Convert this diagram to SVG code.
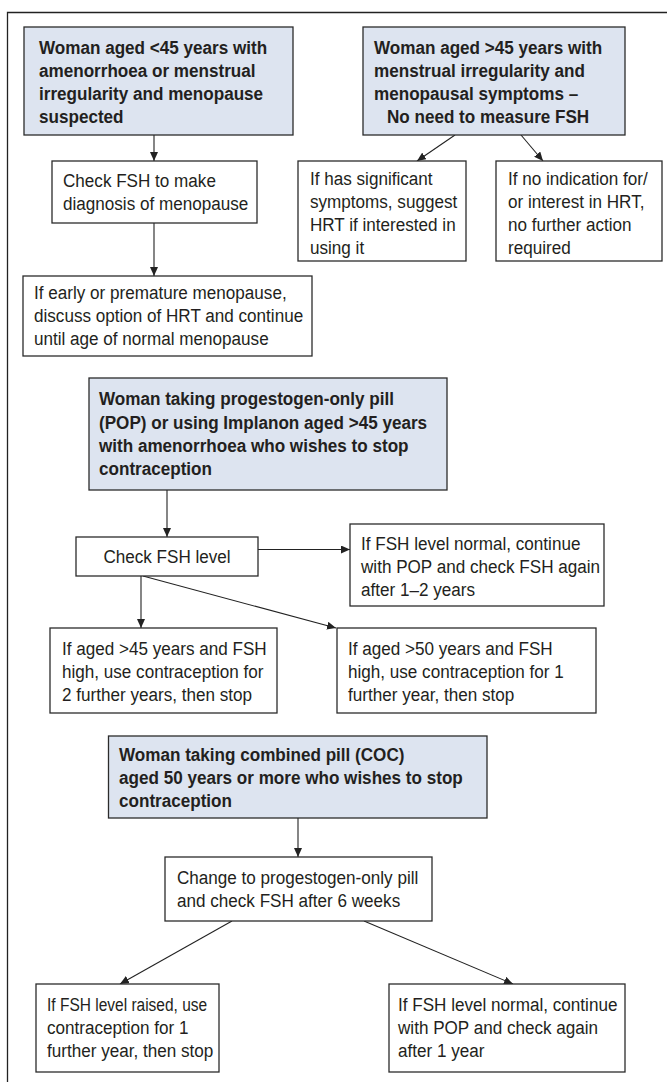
<svg xmlns="http://www.w3.org/2000/svg" width="667" height="1082" viewBox="0 0 667 1082">
<defs>
<marker id="ah" markerUnits="userSpaceOnUse" markerWidth="10" markerHeight="8" refX="9" refY="4" orient="auto">
<path d="M0,0 L9,4 L0,8 z" fill="#222"/>
</marker>
<style>
.box{fill:#fff;stroke:#2b2b2b;stroke-width:1.3}
.hdr{fill:#dde4f0;stroke:#2b2b2b;stroke-width:1.3}
.t{font-family:"Liberation Sans",Arial,sans-serif;font-size:19px;fill:#231f20}
.b{font-weight:bold}
.c{fill:none;stroke:#222;stroke-width:1.1}
.frame{fill:none;stroke:#222;stroke-width:1.3}
</style>
</defs>
<rect width="667" height="1082" fill="#fff"/>
<path class="frame" d="M7.5,1082 V12.5 H667"/>

<g id="connectors">
<line class="c" x1="154" y1="135" x2="154" y2="161" marker-end="url(#ah)"/>
<line class="c" x1="455" y1="135" x2="417" y2="161" marker-end="url(#ah)"/>
<line class="c" x1="521" y1="135" x2="543" y2="161" marker-end="url(#ah)"/>
<line class="c" x1="154" y1="223" x2="154" y2="276" marker-end="url(#ah)"/>
<line class="c" x1="167" y1="490" x2="167" y2="537" marker-end="url(#ah)"/>
<line class="c" x1="258" y1="549.5" x2="350" y2="549.5" marker-end="url(#ah)"/>
<line class="c" x1="141" y1="576" x2="141" y2="628" marker-end="url(#ah)"/>
<line class="c" x1="143" y1="576" x2="336" y2="628" marker-end="url(#ah)"/>
<line class="c" x1="298" y1="818" x2="298" y2="857" marker-end="url(#ah)"/>
<line class="c" x1="232" y1="921" x2="120" y2="984" marker-end="url(#ah)"/>
<line class="c" x1="364" y1="921" x2="513" y2="984" marker-end="url(#ah)"/>
</g>

<g id="n1">
<rect class="hdr" x="24" y="27" width="269" height="108"/>
<g transform="translate(39,0) scale(0.9,1)">
<text class="t b" x="0" y="54">Woman aged &lt;45 years with</text>
<text class="t b" x="0" y="77">amenorrhoea or menstrual</text>
<text class="t b" x="0" y="100">irregularity and menopause</text>
<text class="t b" x="0" y="123">suspected</text>
</g>
</g>

<g id="n2">
<rect class="hdr" x="363" y="27" width="262" height="108"/>
<g transform="translate(374,0) scale(0.9,1)">
<text class="t b" x="0" y="54">Woman aged &gt;45 years with</text>
<text class="t b" x="0" y="77">menstrual irregularity and</text>
<text class="t b" x="0" y="100">menopausal symptoms –</text>
<text class="t b" x="14.4" y="123">No need to measure FSH</text>
</g>
</g>

<g id="n3">
<rect class="box" x="52" y="161" width="205" height="62"/>
<g transform="translate(63,0) scale(0.9,1)">
<text class="t" x="0" y="187">Check FSH to make</text>
<text class="t" x="0" y="210">diagnosis of menopause</text>
</g>
</g>

<g id="n4">
<rect class="box" x="298" y="161" width="168" height="100"/>
<g transform="translate(310,0) scale(0.9,1)">
<text class="t" x="0" y="185">If has significant</text>
<text class="t" x="0" y="208">symptoms, suggest</text>
<text class="t" x="0" y="231">HRT if interested in</text>
<text class="t" x="0" y="254">using it</text>
</g>
</g>

<g id="n5">
<rect class="box" x="496" y="161" width="166" height="100"/>
<g transform="translate(508,0) scale(0.9,1)">
<text class="t" x="0" y="185">If no indication for/</text>
<text class="t" x="0" y="208">or interest in HRT,</text>
<text class="t" x="0" y="231">no further action</text>
<text class="t" x="0" y="254">required</text>
</g>
</g>

<g id="n6">
<rect class="box" x="23" y="276" width="289" height="80"/>
<g transform="translate(34,0) scale(0.9,1)">
<text class="t" x="0" y="299">If early or premature menopause,</text>
<text class="t" x="0" y="322">discuss option of HRT and continue</text>
<text class="t" x="0" y="345">until age of normal menopause</text>
</g>
</g>

<g id="n7">
<rect class="hdr" x="89" y="378" width="358" height="112"/>
<g transform="translate(99,0) scale(0.9,1)">
<text class="t b" x="0" y="405">Woman taking progestogen-only pill</text>
<text class="t b" x="0" y="429">(POP) or using Implanon aged &gt;45 years</text>
<text class="t b" x="0" y="452">with amenorrhoea who wishes to stop</text>
<text class="t b" x="0" y="475">contraception</text>
</g>
</g>

<g id="n8">
<rect class="box" x="76" y="537" width="182" height="39"/>
<g transform="translate(167,0) scale(0.9,1)">
<text class="t" x="0" y="563" text-anchor="middle">Check FSH level</text>
</g>
</g>

<g id="n9">
<rect class="box" x="350" y="524" width="254" height="82"/>
<g transform="translate(361,0) scale(0.9,1)">
<text class="t" x="0" y="550">If FSH level normal, continue</text>
<text class="t" x="0" y="573">with POP and check FSH again</text>
<text class="t" x="0" y="596">after 1–2 years</text>
</g>
</g>

<g id="n10">
<rect class="box" x="50" y="628" width="227" height="85"/>
<g transform="translate(62,0) scale(0.9,1)">
<text class="t" x="0" y="655">If aged &gt;45 years and FSH</text>
<text class="t" x="0" y="678">high, use contraception for</text>
<text class="t" x="0" y="701">2 further years, then stop</text>
</g>
</g>

<g id="n11">
<rect class="box" x="337" y="628" width="259" height="85"/>
<g transform="translate(348,0) scale(0.9,1)">
<text class="t" x="0" y="655">If aged &gt;50 years and FSH</text>
<text class="t" x="0" y="678">high, use contraception for 1</text>
<text class="t" x="0" y="701">further year, then stop</text>
</g>
</g>

<g id="n12">
<rect class="hdr" x="108.5" y="736" width="378.5" height="82"/>
<g transform="translate(119,0) scale(0.9,1)">
<text class="t b" x="0" y="761">Woman taking combined pill (COC)</text>
<text class="t b" x="0" y="784">aged 50 years or more who wishes to stop</text>
<text class="t b" x="0" y="807">contraception</text>
</g>
</g>

<g id="n13">
<rect class="box" x="165" y="857" width="267" height="64"/>
<g transform="translate(177,0) scale(0.9,1)">
<text class="t" x="0" y="884">Change to progestogen-only pill</text>
<text class="t" x="0" y="907">and check FSH after 6 weeks</text>
</g>
</g>

<g id="n14">
<rect class="box" x="36" y="984" width="183" height="88"/>
<g transform="translate(47,0) scale(0.9,1)">
<text class="t" x="0" y="1011" textLength="178" lengthAdjust="spacingAndGlyphs">If FSH level raised, use</text>
<text class="t" x="0" y="1034">contraception for 1</text>
<text class="t" x="0" y="1057">further year, then stop</text>
</g>
</g>

<g id="n15">
<rect class="box" x="389" y="984" width="236" height="88"/>
<g transform="translate(398,0) scale(0.9,1)">
<text class="t" x="0" y="1011">If FSH level normal, continue</text>
<text class="t" x="0" y="1034">with POP and check again</text>
<text class="t" x="0" y="1057">after 1 year</text>
</g>
</g>
</svg>
